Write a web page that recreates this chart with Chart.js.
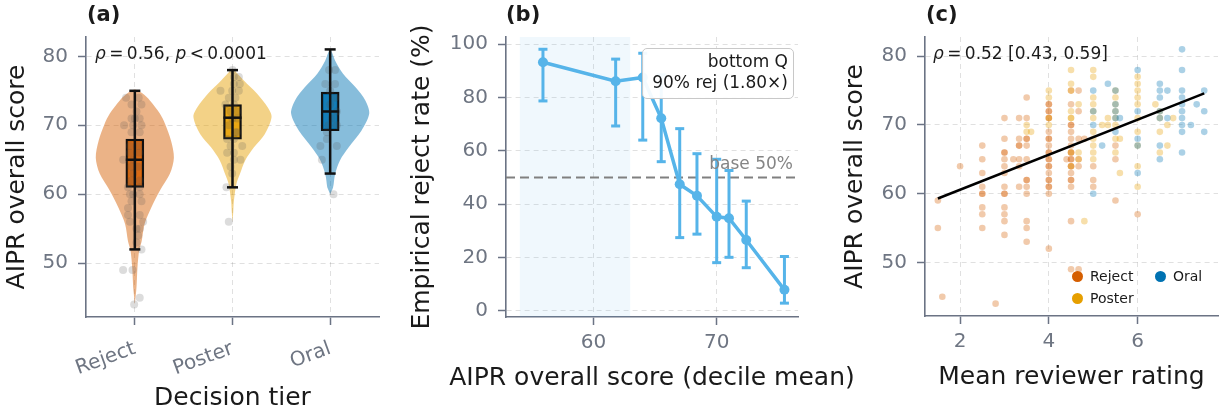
<!DOCTYPE html>
<html>
<head>
<meta charset="utf-8">
<script src="https://cdn.jsdelivr.net/npm/chart.js@4.4.1/dist/chart.umd.min.js"></script>
<style>
  body { margin: 0; width: 1225px; height: 413px; position: relative; overflow: hidden; background: #fff; font-family: 'DejaVu Sans', sans-serif; color: #1a1a1a; }
  canvas { position: absolute; top: 0; }
  .txt { position: absolute; white-space: nowrap; line-height: 1; }
  .panel { font-weight: bold; font-size: 21px; top: 4px; }
  .note { font-size: 17px; }
  .axt { font-size: 25px; transform: translateX(-50%); }
  .qbox { position: absolute; left: 642px; top: 48px; width: 140px; height: 45px; padding: 2px 5px; background: rgba(255,255,255,0.93); border: 1px solid #c8c8c8; border-radius: 5px; font-size: 17px; line-height: 21px; text-align: right; }
  .leg { position: absolute; font-size: 14px; line-height: 1; white-space: nowrap; }
  .leg span { display: inline-block; width: 11px; height: 11px; border-radius: 50%; vertical-align: -1px; margin-right: 7px; }
</style>
</head>
<body>
<canvas id="chartA" width="410" height="413" style="left:0px"></canvas>
<canvas id="chartB" width="470" height="413" style="left:400px"></canvas>
<canvas id="chartC" width="395" height="413" style="left:830px"></canvas>

<div class="txt panel" style="left:87px">(a)</div>
<div class="txt panel" style="left:506px">(b)</div>
<div class="txt panel" style="left:926px">(c)</div>

<div class="txt axt" style="left:652px; top:364px">AIPR overall score (decile mean)</div>

<div class="txt note" style="left:95px; top:45px"><i>ρ</i>&#8201;=&#8201;0.56, <i>p</i>&#8201;&lt;&#8201;0.0001</div>
<div class="txt note" style="left:933px; top:45px"><i>ρ</i>&#8201;=&#8201;0.52 [0.43, 0.59]</div>
<div class="txt note" style="right:432px; top:155px; color:#858585">base 50%</div>
<div class="qbox">bottom Q<br>90% rej (1.80×)</div>

<div class="leg" style="left:1072px; top:269px"><span style="background:#D55E00"></span>Reject</div>
<div class="leg" style="left:1155px; top:269px"><span style="background:#0072B2"></span>Oral</div>
<div class="leg" style="left:1072px; top:291px"><span style="background:#E69F00"></span>Poster</div>

<script>
// ---- panel (a): score by decision tier ----
const tiers = ['Reject', 'Poster', 'Oral'];
const tierColors = ['#D55E00', '#E69F00', '#0072B2'];
const scoreTicks = [50, 60, 70, 80];

// violin outlines: score levels and half widths (in category units)
const rejectViolinY = [44, 46.5, 49.4, 51.8, 53.2, 55.7, 58.1, 60.6, 63, 65.3, 67.8, 70.2, 71.7, 73.6, 74.6, 75.2];
const rejectViolinW = [0, 0.017, 0.027, 0.044, 0.07, 0.1, 0.17, 0.26, 0.36, 0.40, 0.37, 0.31, 0.256, 0.154, 0.08, 0];
const posterViolinY = [56, 57.5, 59, 61.5, 62.9, 64.9, 66.8, 68.7, 71.2, 72.6, 74.6, 76.5, 77.5, 78.2];
const posterViolinW = [0, 0.008, 0.014, 0.04, 0.075, 0.13, 0.22, 0.33, 0.40, 0.36, 0.25, 0.116, 0.05, 0];
const oralViolinY = [60, 61, 62.9, 64.9, 66.8, 69.2, 71.7, 73.6, 75.5, 77.5, 79.4, 80.5, 81];
const oralViolinW = [0, 0.03, 0.05, 0.1, 0.19, 0.32, 0.40, 0.36, 0.26, 0.13, 0.05, 0.02, 0];

const boxQ1 = [61, 68, 69.2];
const boxQ3 = [68, 73, 74.8];
const boxMedian = [65, 71.1, 72];
const whiskerLo = [52, 61, 63];
const whiskerHi = [75, 78, 81];

// strip points (score, sideways shift)
const rejectDotScore = [74, 74, 73, 73, 72, 71, 71, 71, 70, 70, 70, 69, 69, 67, 67, 66, 66, 65, 65, 64, 64, 63, 62, 62, 61, 61, 60, 60, 60, 59, 59, 58, 57, 57, 56, 56, 55, 55, 54, 53, 52, 49, 49, 45, 44];
const rejectDotShift = [-0.09, 0.04, -0.034, 0.068, 0.017, -0.034, 0, 0.05, -0.11, -0.017, 0.068, -0.034, 0.05, -0.05, 0.034, -0.05, 0.045, -0.12, -0.017, -0.034, 0.034, -0.017, -0.034, 0.05, -0.07, 0.05, -0.05, -0.017, 0.05, -0.034, 0.068, -0.07, -0.07, 0.05, -0.05, 0.085, 0.017, 0.05, 0.034, 0.017, 0.068, -0.12, -0.024, 0.05, -0.007];
const posterDotScore = [78, 77, 77, 76, 76, 75, 75, 75, 74, 74, 73, 73, 72, 72, 71, 71, 70, 69, 69, 68, 68, 67, 67, 66, 66, 65, 65, 64, 63, 61, 56];
const posterDotShift = [0, 0.014, 0.065, 0.014, 0.075, -0.123, -0.003, 0.065, -0.038, 0.03, -0.072, 0.014, -0.02, 0.048, -0.003, 0.048, -0.038, 0.03, 0.048, -0.055, 0.014, -0.02, 0.1, -0.055, 0.014, 0.014, 0.082, -0.02, -0.003, -0.062, -0.038];
const oralDotScore = [78, 78, 76, 76, 75, 74, 73, 72, 71, 70, 70, 69, 68, 67, 67, 65, 60];
const oralDotShift = [-0.011, 0.05, -0.05, 0.05, 0, 0.05, 0, 0.068, 0.017, -0.017, 0.068, -0.034, -0.034, -0.1, 0.068, -0.085, 0.034];

// ---- panel (b): reject rate by score decile ----
const decileScore = [55.9, 61.8, 64.0, 65.5, 67.0, 68.4, 70.0, 71.0, 72.4, 75.5];
const rejectRate = [93.2, 86.1, 87.5, 72.2, 47.4, 43.1, 35.2, 34.7, 26.5, 7.8];
const rateLo = [78.7, 69.3, 64.0, 55.9, 27.4, 28.7, 18.0, 20.0, 16.1, 2.8];
const rateHi = [98.1, 94.4, 96.6, 88.5, 68.3, 58.9, 56.8, 52.6, 41.1, 20.3];
const baseRate = 50;
const bottomBand = [54, 63];
const rateTicks = [0, 20, 40, 60, 80, 100];
const decileTicks = [60, 70];

// ---- panel (c): score vs mean reviewer rating ----
const rejectRating = [1.5, 1.6, 2, 2.5, 2.8, 3, 3.2, 3.33, 3.5, 4, 4.4, 4.5, 4.67, 4.8, 5, 5.5, 6];
const rejectScores = [[59, 55], [45], [64], [67, 65, 63, 61, 60, 60, 58, 57, 55], [44],
  [71, 68, 66, 66, 65, 64, 63, 61, 60, 60, 58, 57, 56, 54], [65], [71, 68, 67, 67, 65, 64, 61],
  [74, 71, 68, 68, 67, 65, 62, 62, 61, 60, 56, 55, 53],
  [73, 73, 72, 72, 71, 71, 69, 68, 68, 67, 66, 66, 65, 65, 64, 64, 63, 62, 62, 61, 61, 60, 52], [65],
  [75, 73, 70, 70, 69, 68, 67, 66, 66, 65, 65, 64, 64, 63, 62, 62, 61, 56, 49],
  [75, 72, 68, 65, 64, 49], [68], [64, 62, 61], [67, 65, 59], [57]];
const posterRating = [3.5, 3.6, 4, 4.5, 4.67, 4.8, 5, 5.2, 5.33, 5.5, 5.6, 6, 6.4, 6.5, 6.67, 6.8];
const posterScores = [[70, 69], [69], [75, 74, 71, 70], [78, 76, 75, 72, 71, 71, 66, 64], [73, 66, 65], [56],
  [78, 77, 74, 73, 72, 71, 69, 68, 67, 66, 65], [70], [71, 70], [75, 74, 73, 72, 71, 70, 68, 66], [68, 63],
  [77, 76, 75, 74, 73, 71, 69, 67, 64, 61], [73], [72, 71, 69, 66], [70, 67], [71]];
const oralRating = [5, 5.2, 5.33, 5.5, 5.6, 6, 6.5, 6.67, 7, 7.2, 7.33, 7.5];
const oralScores = [[75, 72, 70, 60], [67], [76], [75, 73, 72, 71, 69], [71], [78, 72, 68, 67, 63],
  [76, 75, 74, 72, 71, 67, 65], [75, 71], [81, 78, 75, 74, 73, 72, 71, 70, 69, 66], [70], [73], [75, 72, 69]];
const fitRating = [1.5, 7.5];
const fitScore = [59.3, 74.6];
const ratingTicks = [2, 4, 6];

// ---- shared styling ----
const FONT = "'DejaVu Sans', sans-serif";
const AXIS = '#6b7384';
const TICK = '#6e7582';
const GRID = 'rgba(0,0,0,0.12)';
const SKY = '#56B4E9';
Chart.defaults.font.family = FONT;
Chart.defaults.animation = false;

function alpha(hex, a) {
  const n = parseInt(hex.slice(1), 16);
  return `rgba(${n >> 16},${(n >> 8) & 255},${n & 255},${a})`;
}

function scale(o) {
  return {
    type: 'linear', min: o.min, max: o.max, offset: false, beginAtZero: false,
    afterBuildTicks: s => { s.ticks = o.ticks.map(v => ({ value: v })); },
    afterFit: s => { if (s.isHorizontal()) s.height = o.size; else s.width = o.size; },
    grid: { color: GRID, lineWidth: 1, tickLength: 8, tickColor: AXIS, tickWidth: 1.5, tickBorderDash: [], offset: false },
    border: { color: AXIS, width: 1.6, dash: [5, 4] },
    ticks: {
      color: TICK, font: { size: 20 }, padding: o.pad, autoSkip: false,
      minRotation: o.rot || 0, maxRotation: o.rot || 0,
      callback: o.fmt || (v => v)
    },
    title: { display: !!o.title, text: o.title, color: '#1a1a1a', font: { size: 25, lineHeight: 1.2 }, padding: o.titlePad }
  };
}

function baseOptions(pad, xs, ys) {
  return {
    responsive: false,
    layout: { padding: pad },
    plugins: { legend: { display: false }, tooltip: { enabled: false } },
    scales: { x: xs, y: ys }
  };
}

// ---- panel (a) ----
const violinY = [rejectViolinY, posterViolinY, oralViolinY];
const violinW = [rejectViolinW, posterViolinW, oralViolinW];
const dotScore = [rejectDotScore, posterDotScore, oralDotScore];
const dotShift = [rejectDotShift, posterDotShift, oralDotShift];

const aSets = [];
tiers.forEach((t, i) => {
  const ys = violinY[i], ws = violinW[i];
  const right = ys.map((y, k) => ({ x: i + ws[k], y }));
  const left = [];
  for (let k = ys.length - 2; k >= 1; k--) left.push({ x: i - ws[k], y: ys[k] });
  aSets.push({
    type: 'line', data: right.concat(left), fill: 'shape',
    backgroundColor: alpha(tierColors[i], 0.47), borderColor: 'transparent', borderWidth: 0,
    pointRadius: 0, tension: 0.3, order: 10
  });
});
aSets.push({
  type: 'bar',
  data: tiers.map((t, i) => ({ x: i, y: [boxQ1[i], boxQ3[i]] })),
  backgroundColor: tierColors.map(c => alpha(c, 0.85)),
  borderColor: '#111', borderWidth: 2.2, borderSkipped: false, barThickness: 18, order: 8
});
tiers.forEach((t, i) => {
  aSets.push({
    type: 'scatter',
    data: dotScore[i].map((y, k) => ({ x: i + dotShift[i][k], y })),
    pointRadius: 4, backgroundColor: 'rgba(80,80,80,0.2)', borderWidth: 0, order: 6
  });
  aSets.push({
    type: 'line', data: [{ x: i, y: whiskerLo[i] }, { x: i, y: whiskerHi[i] }],
    borderColor: '#111', borderWidth: 2.5, pointRadius: 0, fill: false, order: 4
  });
});
aSets.push({
  type: 'scatter',
  data: tiers.flatMap((t, i) => [{ x: i, y: whiskerLo[i] }, { x: i, y: whiskerHi[i] }]),
  pointStyle: 'line', pointRadius: 5.5, borderColor: '#111', borderWidth: 2.5, order: 2
});
aSets.push({
  type: 'scatter',
  data: tiers.map((t, i) => ({ x: i, y: boxMedian[i] })),
  pointStyle: 'line', pointRadius: 9, borderColor: '#111', borderWidth: 2.5, order: 2
});

new Chart(document.getElementById('chartA'), {
  type: 'scatter',
  data: { datasets: aSets },
  options: baseOptions({ left: 0, top: 37, right: 31, bottom: 0 },
    scale({ min: -0.5, max: 2.5, ticks: [0, 1, 2], size: 96, pad: 12, rot: 20, fmt: v => tiers[v],
      title: 'Decision tier', titlePad: { top: 0, bottom: 0 } }),
    scale({ min: 42.2, max: 82.8, ticks: scoreTicks, size: 86, pad: 10,
      title: 'AIPR overall score', titlePad: { top: 2, bottom: 0 } }))
});

// ---- panel (b) ----
const bX = { min: 52.9, max: 76.6 };
const bY = { min: -2.4, max: 102.7 };
const bSets = [
  {
    type: 'line', data: bottomBand.map(x => ({ x, y: bY.max })), fill: 'start',
    backgroundColor: alpha(SKY, 0.09), borderColor: 'transparent', borderWidth: 0, pointRadius: 0, order: 20
  },
  {
    type: 'line', data: [{ x: bX.min, y: baseRate }, { x: bX.max, y: baseRate }],
    borderColor: '#808080', borderDash: [9, 5], borderWidth: 2, pointRadius: 0, fill: false, order: 15
  }
];
decileScore.forEach((x, i) => {
  bSets.push({
    type: 'line', data: [{ x, y: rateLo[i] }, { x, y: rateHi[i] }],
    borderColor: SKY, borderWidth: 3, pointRadius: 0, fill: false, order: 5
  });
});
bSets.push({
  type: 'scatter',
  data: decileScore.flatMap((x, i) => [{ x, y: rateLo[i] }, { x, y: rateHi[i] }]),
  pointStyle: 'line', pointRadius: 4.5, borderColor: SKY, borderWidth: 3, order: 4
});
bSets.push({
  type: 'line', data: decileScore.map((x, i) => ({ x, y: rejectRate[i] })),
  borderColor: SKY, borderWidth: 3.5, pointRadius: 5, pointBackgroundColor: SKY,
  pointBorderWidth: 0, fill: false, order: 1
});

new Chart(document.getElementById('chartB'), {
  type: 'scatter',
  data: { datasets: bSets },
  options: baseOptions({ left: 0, top: 37, right: 72, bottom: 0 },
    scale({ min: bX.min, max: bX.max, ticks: decileTicks, size: 96, pad: 6,
      title: '', titlePad: { top: 0, bottom: 21 } }),
    scale({ min: bY.min, max: bY.max, ticks: rateTicks, size: 106, pad: 10,
      title: 'Empirical reject rate (%)', titlePad: { top: 7, bottom: 0 } }))
});

// ---- panel (c) ----
function columnPoints(ratings, scores) {
  return ratings.flatMap((x, i) => scores[i].map(y => ({ x, y })));
}
const cGroups = [
  columnPoints(rejectRating, rejectScores),
  columnPoints(posterRating, posterScores),
  columnPoints(oralRating, oralScores)
];
const cSets = cGroups.map((pts, i) => ({
  type: 'scatter', label: tiers[i], data: pts,
  pointRadius: 3.3, backgroundColor: alpha(tierColors[i], 0.33), borderWidth: 0, order: 10 - i
}));
cSets.push({
  type: 'line', data: fitRating.map((x, i) => ({ x, y: fitScore[i] })),
  borderColor: '#000', borderWidth: 2.5, pointRadius: 0, fill: false, order: 1
});

new Chart(document.getElementById('chartC'), {
  type: 'scatter',
  data: { datasets: cSets },
  options: baseOptions({ left: 0, top: 37, right: 7, bottom: 0 },
    scale({ min: 1.21, max: 7.81, ticks: ratingTicks, size: 97, pad: 6,
      title: 'Mean reviewer rating', titlePad: { top: 0, bottom: 21 } }),
    scale({ min: 42.2, max: 82.8, ticks: scoreTicks, size: 95, pad: 10,
      title: 'AIPR overall score', titlePad: { top: 10, bottom: 0 } }))
});
</script>
</body>
</html>
